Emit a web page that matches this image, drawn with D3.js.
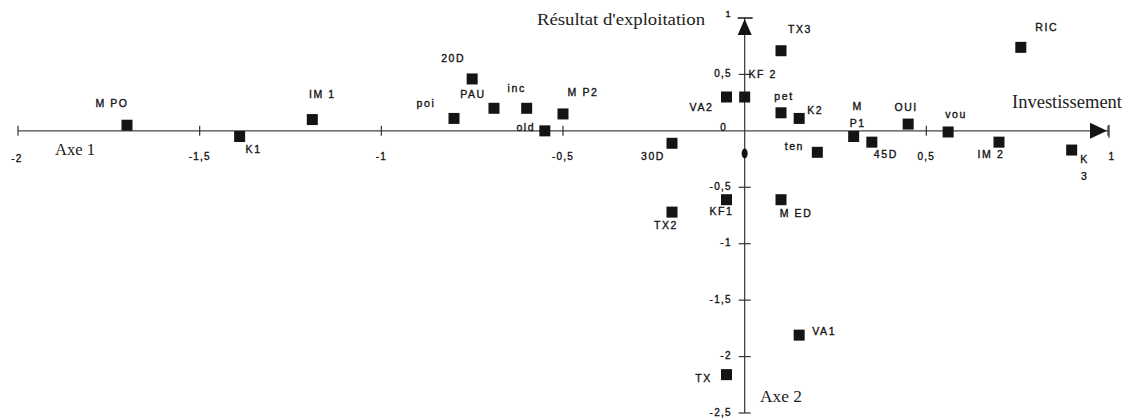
<!DOCTYPE html>
<html>
<head>
<meta charset="utf-8">
<script src="https://cdn.jsdelivr.net/npm/d3@7/dist/d3.min.js"></script>
<style>
  html, body { margin: 0; padding: 0; background: #fff; }
  svg { display: block; }
</style>
</head>
<body>
<svg id="chart" width="1125" height="420"></svg>
<script>
// ---- data ----
const names   = ["M PO","K1","IM 1","poi","20D","PAU","inc","M P2","old","30D","VA2","KF 2","TX3","pet","K2","ten","M\nP1","45D","OUI","vou","IM 2","RIC","K\n3","KF1","TX2","M ED","VA1","TX"];
const axis1   = [-1.70,-1.39,-1.19,-0.80,-0.75,-0.69,-0.60,-0.50,-0.55,-0.20,-0.05,0.00,0.10,0.10,0.15,0.20,0.30,0.35,0.45,0.56,0.70,0.76,0.90,-0.05,-0.20,0.10,0.15,-0.05];
const axis2   = [0.05,-0.05,0.10,0.11,0.46,0.20,0.20,0.15,0.00,-0.11,0.30,0.30,0.71,0.16,0.11,-0.19,-0.05,-0.10,0.06,-0.01,-0.10,0.74,-0.17,-0.61,-0.72,-0.61,-1.81,-2.16];
const xTicks      = [-2,-1.5,-1,-0.5,0,0.5,1];
const xTickLabels = ["-2","-1,5","-1","-0,5","0","0,5","1"];
const yTicks      = [1,0.5,-0.5,-1,-1.5,-2,-2.5];
const yTickLabels = ["1","0,5","-0,5","-1","-1,5","-2","-2,5"];
const axisTitles  = { x: "Investissement", y: "Résultat d'exploitation", a1: "Axe 1", a2: "Axe 2" };

// ---- layout (label offsets from each point, in px) ----
const labelOffsets = [
  [-15,-21],[14,14],[10,-24],[-28,-14],[-19,-20],[-21,-13],[-10,-19],[20,-21],[-19,-3],[-19,14],
  [-25,11],[18,-22],[19,-21],[3,-16],[16,-7],[-23,-5],[4,-29],[14,13],[-2,-16],[8,-17],
  [-8,13],[26,-19],[13,10],[-5,13],[-6,14],[15,15],[25,-3],[-23,5]
];

const svg = d3.select("#chart");
const x = d3.scaleLinear().domain([-2, 1]).range([18, 1108]);
const y = d3.scaleLinear().domain([-2.5, 1]).range([413, 18]);
const ink = "#141414";
const sans = "'Liberation Sans', Arial, sans-serif";
const serif = "'Liberation Serif', 'DejaVu Serif', serif";

// axes lines
svg.append("line").attr("x1", x(-2)).attr("x2", x(1)).attr("y1", y(0)).attr("y2", y(0))
  .attr("stroke", "#444").attr("stroke-width", 1.3);
svg.append("line").attr("x1", x(0)).attr("x2", x(0)).attr("y1", y(1)).attr("y2", y(-2.5))
  .attr("stroke", "#444").attr("stroke-width", 1.3);

// x ticks
xTicks.forEach((t, i) => {
  if (t !== 0) {
    svg.append("line").attr("x1", x(t)).attr("x2", x(t)).attr("y1", y(0) - 5).attr("y2", y(0) + 5)
      .attr("stroke", "#333").attr("stroke-width", 1.2);
  }
  let tx = x(t), ty = y(0) + 27, anchor = "middle";
  if (t === 0) { tx = x(0) - 21; ty = y(0) - 2; }
  if (t === 1) { tx = x(1) + 4; }
  if (t === -2) { tx = x(-2) - 1; ty = y(0) + 29; }
  svg.append("text").attr("x", tx).attr("y", ty).attr("text-anchor", anchor)
    .attr("dominant-baseline", "middle")
    .attr("font-family", sans).attr("font-size", 10).attr("letter-spacing", 1.2)
    .attr("fill", ink).attr("stroke", ink).attr("stroke-width", 0.35).text(xTickLabels[i]);
});

// y ticks
yTicks.forEach((t, i) => {
  if (t !== 1) {
    svg.append("line").attr("x1", x(0) - 6).attr("x2", x(0) + 6).attr("y1", y(t)).attr("y2", y(t))
      .attr("stroke", "#333").attr("stroke-width", 1.2);
  }
  svg.append("text").attr("x", x(0) - 13).attr("y", t === 1 ? y(t) - 3 : y(t))
    .attr("text-anchor", "end").attr("dominant-baseline", "middle")
    .attr("font-family", sans).attr("font-size", t === 1 ? 9 : 10).attr("letter-spacing", 1.2)
    .attr("fill", ink).attr("stroke", ink).attr("stroke-width", 0.35).text(yTickLabels[i]);
});

// arrows
const ax = x(1), ay = y(0);
svg.append("path").attr("d", `M${ax - 18},${ay - 8} L${ax - 1},${ay} L${ax - 18},${ay + 8} Z`).attr("fill", ink);
svg.append("line").attr("x1", ax + 1).attr("x2", ax + 1).attr("y1", ay - 6).attr("y2", ay + 7)
  .attr("stroke", "#333").attr("stroke-width", 1.3);
const bx = x(0), by = y(1);
svg.append("path").attr("d", `M${bx - 7},${by + 17} L${bx},${by + 1} L${bx + 7},${by + 17} Z`).attr("fill", ink);
svg.append("line").attr("x1", bx - 7).attr("x2", bx + 8).attr("y1", by).attr("y2", by)
  .attr("stroke", "#222").attr("stroke-width", 1.6);

// small mark on vertical axis
svg.append("ellipse").attr("cx", x(0)).attr("cy", y(-0.2)).attr("rx", 3).attr("ry", 5).attr("fill", ink);

// axis titles
function serifText(txt, cx, cy, len, size) {
  svg.append("text").attr("x", cx).attr("y", cy).attr("text-anchor", "middle")
    .attr("dominant-baseline", "middle")
    .attr("font-family", serif).attr("font-size", size).attr("fill", "#222")
    .attr("textLength", len).attr("lengthAdjust", "spacingAndGlyphs").text(txt);
}
serifText(axisTitles.x, 1067, 104, 110, 18);
serifText(axisTitles.y, 621, 21, 168, 16);
serifText(axisTitles.a1, 75, 151, 40, 17);
serifText(axisTitles.a2, 781, 398, 42, 17);

// points
const pts = names.map((n, i) => ({ name: n, v1: axis1[i], v2: axis2[i], off: labelOffsets[i] }));
const S = 11;
svg.append("g").selectAll("rect").data(pts).join("rect")
  .attr("x", d => x(d.v1) - S / 2).attr("y", d => y(d.v2) - S / 2)
  .attr("width", S).attr("height", S).attr("fill", ink);

// labels
const lg = svg.append("g").attr("font-family", sans).attr("font-size", 10.5)
  .attr("letter-spacing", 1.6).attr("fill", ink).attr("stroke", ink).attr("stroke-width", 0.35);
pts.forEach(d => {
  const lines = d.name.split("\n");
  const cx = x(d.v1) + d.off[0], cy = y(d.v2) + d.off[1];
  lines.forEach((ln, k) => {
    lg.append("text").attr("x", cx).attr("y", cy + k * 17)
      .attr("text-anchor", "middle").attr("dominant-baseline", "middle").text(ln);
  });
});
</script>
</body>
</html>
